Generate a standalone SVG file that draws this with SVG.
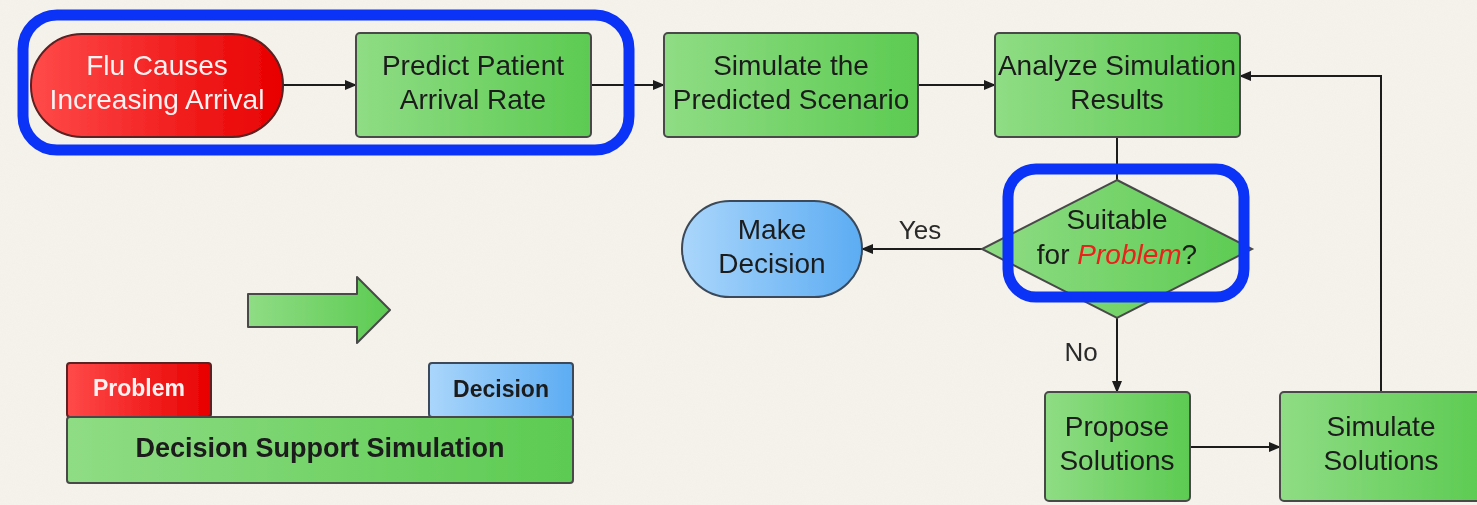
<svg xmlns="http://www.w3.org/2000/svg" width="1477" height="505" viewBox="0 0 1477 505">
  <defs>
    <linearGradient id="gGreen" x1="0" y1="0" x2="1" y2="0">
      <stop offset="0" stop-color="#8fdc84"/>
      <stop offset="1" stop-color="#5ccb52"/>
    </linearGradient>
    <linearGradient id="gRed" x1="0" y1="0" x2="1" y2="0">
      <stop offset="0" stop-color="#ff4a4a"/>
      <stop offset="1" stop-color="#e80000"/>
    </linearGradient>
    <linearGradient id="gBlue" x1="0" y1="0" x2="1" y2="0">
      <stop offset="0" stop-color="#aad6fb"/>
      <stop offset="1" stop-color="#5cacf3"/>
    </linearGradient>
    <filter id="paper" x="0" y="0" width="100%" height="100%">
      <feTurbulence type="fractalNoise" baseFrequency="0.9" numOctaves="2" seed="3"/>
      <feColorMatrix type="matrix" values="0 0 0 0 0.55  0 0 0 0 0.5  0 0 0 0 0.42  0 0 0 0.06 0"/>
    </filter>
    <filter id="soft" x="-5%" y="-5%" width="110%" height="110%">
      <feGaussianBlur stdDeviation="0.6"/>
    </filter>
    <marker id="arrow" markerWidth="12" markerHeight="10" refX="11" refY="5" orient="auto" markerUnits="userSpaceOnUse">
      <path d="M0,0 L12,5 L0,10 Z" fill="#1a1a1a"/>
    </marker>
  </defs>
  <style>
    .box { fill: url(#gGreen); stroke: #4a4a4a; stroke-width: 2; }
    .red { fill: url(#gRed); stroke: #5a2020; stroke-width: 2; }
    .blue { fill: url(#gBlue); stroke: #3a4a5a; stroke-width: 2; }
    .txt { font-family: "Liberation Sans", Arial, sans-serif; font-size: 28px; fill: #1c1c1c; text-anchor: middle; }
    .wtxt { font-family: "Liberation Sans", Arial, sans-serif; font-size: 28px; fill: #fff2f2; text-anchor: middle; }
    .lbl { font-family: "Liberation Sans", Arial, sans-serif; font-size: 26px; fill: #2a2a2a; text-anchor: middle; }
    .btxt { font-family: "Liberation Sans", Arial, sans-serif; font-weight: bold; fill: #1a1a1a; text-anchor: middle; }
    .conn { fill: none; stroke: #1e1e1e; stroke-width: 2; }
    .hl { fill: none; stroke: #0a33f7; stroke-width: 11; }
  </style>

  <!-- paper background -->
  <rect width="1477" height="505" fill="#f6f3ed"/>
  <rect width="1477" height="505" filter="url(#paper)"/>

  <g filter="url(#soft)">
    <!-- connectors -->
    <g id="connectors">
      <line class="conn" x1="283" y1="85" x2="356" y2="85" marker-end="url(#arrow)"/>
      <line class="conn" x1="591" y1="85" x2="664" y2="85" marker-end="url(#arrow)"/>
      <line class="conn" x1="918" y1="85" x2="995" y2="85" marker-end="url(#arrow)"/>
      <line class="conn" x1="1117" y1="137" x2="1117" y2="180"/>
      <line class="conn" x1="982" y1="249" x2="862" y2="249" marker-end="url(#arrow)"/>
      <line class="conn" x1="1117" y1="318" x2="1117" y2="392" marker-end="url(#arrow)"/>
      <line class="conn" x1="1190" y1="447" x2="1280" y2="447" marker-end="url(#arrow)"/>
      <polyline class="conn" points="1381,392 1381,76 1240,76" marker-end="url(#arrow)"/>
      <text class="lbl" x="920" y="239">Yes</text>
      <text class="lbl" x="1081" y="361">No</text>
    </g>

    <g id="flu">
      <rect class="red" x="31" y="34" width="252" height="103" rx="51" ry="51"/>
      <text class="wtxt" x="157" y="75">Flu Causes</text>
      <text class="wtxt" x="157" y="109">Increasing Arrival</text>
    </g>

    <g id="predict">
      <rect class="box" x="356" y="33" width="235" height="104" rx="4"/>
      <text class="txt" x="473" y="75">Predict Patient</text>
      <text class="txt" x="473" y="109">Arrival Rate</text>
    </g>

    <g id="simulate-scenario">
      <rect class="box" x="664" y="33" width="254" height="104" rx="4"/>
      <text class="txt" x="791" y="75">Simulate the</text>
      <text class="txt" x="791" y="109">Predicted Scenario</text>
    </g>

    <g id="analyze">
      <rect class="box" x="995" y="33" width="245" height="104" rx="4"/>
      <text class="txt" x="1117" y="75">Analyze Simulation</text>
      <text class="txt" x="1117" y="109">Results</text>
    </g>

    <g id="suitable">
      <polygon class="box" points="1117,180 1252,249 1117,318 982,249"/>
      <text class="txt" x="1117" y="229">Suitable</text>
      <text class="txt" x="1117" y="264">for <tspan fill="#e8231a" font-style="italic">Problem</tspan>?</text>
    </g>

    <g id="make-decision">
      <rect class="blue" x="682" y="201" width="180" height="96" rx="48" ry="48"/>
      <text class="txt" x="772" y="239">Make</text>
      <text class="txt" x="772" y="273">Decision</text>
    </g>

    <g id="propose">
      <rect class="box" x="1045" y="392" width="145" height="109" rx="4"/>
      <text class="txt" x="1117" y="436">Propose</text>
      <text class="txt" x="1117" y="470">Solutions</text>
    </g>

    <g id="simulate-solutions">
      <rect class="box" x="1280" y="392" width="205" height="109" rx="4"/>
      <text class="txt" x="1381" y="436">Simulate</text>
      <text class="txt" x="1381" y="470">Solutions</text>
    </g>

    <!-- legend -->
    <g id="legend-arrow">
      <path class="box" d="M248,294 L357,294 L357,277 L390,310 L357,343 L357,327 L248,327 Z" stroke-linejoin="round"/>
    </g>
    <g id="legend-problem">
      <rect class="red" x="67" y="363" width="144" height="54" rx="3"/>
      <text class="btxt" x="139" y="396" font-size="23" style="fill:#fff2f2">Problem</text>
    </g>
    <g id="legend-decision">
      <rect class="blue" x="429" y="363" width="144" height="54" rx="3"/>
      <text class="btxt" x="501" y="397" font-size="23">Decision</text>
    </g>
    <g id="legend-dss">
      <rect class="box" x="67" y="417" width="506" height="66" rx="3"/>
      <text class="btxt" x="320" y="457" font-size="27">Decision Support Simulation</text>
    </g>
  </g>

  <!-- emphasis outlines -->
  <g id="highlights">
    <rect class="hl" x="23" y="15" width="606" height="135" rx="34"/>
    <rect class="hl" x="1008" y="169" width="236" height="128" rx="28"/>
  </g>
</svg>
